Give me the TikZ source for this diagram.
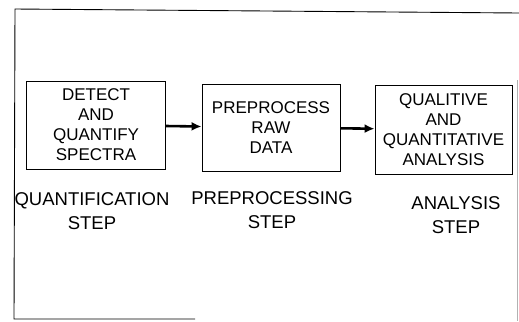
\documentclass[tikz,border=0pt]{standalone}
\usepackage{fontspec}
\setmainfont{Liberation Sans}
\usetikzlibrary{arrows.meta, positioning}
\tikzset{
    caja/.style={draw, line width=0.9pt, minimum width=139bp, minimum height=88bp, inner sep=0pt, align=center, font=\fontsize{17bp}{20bp}\selectfont},
    etiqueta/.style={align=center, inner sep=0pt, font=\fontsize{18.5bp}{24bp}\selectfont},
    flecha/.style={line width=2.6pt, -{Latex[length=10bp, width=9bp]}},
    marco/.style={line width=0.9pt},
}
\begin{document}
\begin{tikzpicture}[x=1bp, y=-1bp]
\useasboundingbox (0,0) rectangle (519,321);
% outer frame
\draw[marco] (519,13) -- (15,9) -- (14,319) -- (195,319);
\draw[gray!60, line width=0.5pt] (517,80) -- (517,321);
% process boxes
\node[caja] (detect) at (96,125) {DETECT\\AND\\QUANTIFY\\SPECTRA};
\node[caja, minimum width=138bp, minimum height=87bp] (prep) at (271,127.5) {PREPROCESS\\RAW\\DATA};
\node[caja, minimum width=137bp, minimum height=89bp] (anal) at (443.5,129.5) {QUALITIVE\\AND\\QUANTITATIVE\\ANALYSIS};
% flow between the steps
\draw[flecha] (detect) -- (prep);
\draw[flecha] (prep) -- (anal);
% step names
\node[etiqueta] (pasoq) at (92,211) {QUANTIFICATION\\STEP};
\node[etiqueta] (pasop) at (272,210) {PREPROCESSING\\STEP};
\node[etiqueta] (pasoa) at (456,215) {ANALYSIS\\STEP};
\end{tikzpicture}
\end{document}
